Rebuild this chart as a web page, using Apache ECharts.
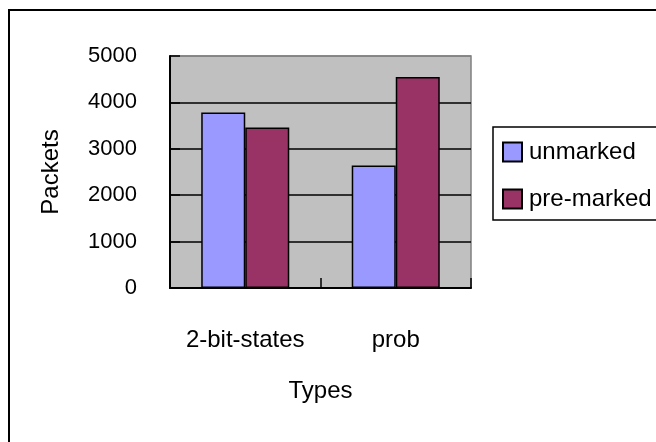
<!DOCTYPE html>
<html>
<head>
<meta charset="utf-8">
<script src="https://cdn.jsdelivr.net/npm/echarts@6/dist/echarts.min.js"></script>
<style>
  html, body { margin: 0; padding: 0; background: #fff; overflow: hidden; }
  #chart { width: 656px; height: 442px; }
</style>
</head>
<body>
<div id="chart"></div>
<script>
// Packet counts per marking type
var categories = ['2-bit-states', 'prob'];
var unmarked = [3780, 2640];
var preMarked = [3460, 4550];
var seriesNames = ['unmarked', 'pre-marked'];
var yTicks = [0, 1000, 2000, 3000, 4000, 5000];

var FONT = '"Liberation Sans", Arial, sans-serif';

var chart = echarts.init(document.getElementById('chart'), null, { renderer: 'canvas' });

chart.setOption({
  animation: false,
  backgroundColor: '#ffffff',
  textStyle: { fontFamily: FONT, color: '#000' },
  graphic: [{
    // outer chart frame; its right and bottom edges run past the canvas
    type: 'rect',
    shape: { x: 9, y: 10, width: 1000, height: 1000 },
    style: { fill: 'none', stroke: '#000', lineWidth: 2 },
    silent: true,
    z: 0
  }],
  grid: {
    left: 170, top: 56, width: 301, height: 232,
    show: true,
    backgroundColor: '#c0c0c0',
    borderColor: '#808080',
    borderWidth: 1.5
  },
  legend: {
    data: seriesNames,
    orient: 'vertical',
    left: 493, top: 127,
    padding: [13, 60, 9, 9],
    itemGap: 23,
    itemWidth: 19, itemHeight: 19,
    icon: 'rect',
    backgroundColor: '#fff',
    borderColor: '#000',
    borderWidth: 1.5,
    textStyle: { fontFamily: FONT, fontSize: 24, color: '#000', padding: [0, 0, 0, 2] }
  },
  xAxis: {
    type: 'category',
    data: categories,
    name: 'Types',
    nameLocation: 'middle',
    nameGap: 91,
    nameTextStyle: { fontFamily: FONT, fontSize: 24, color: '#000' },
    axisLine: { lineStyle: { color: '#000', width: 2 } },
    axisTick: { show: true, inside: true, length: 10, interval: 0, lineStyle: { color: '#000', width: 1.5 } },
    axisLabel: { fontFamily: FONT, fontSize: 24, color: '#000', margin: 40, interval: 0 }
  },
  yAxis: {
    type: 'value',
    min: yTicks[0],
    max: yTicks[yTicks.length - 1],
    interval: 1000,
    name: 'Packets',
    nameLocation: 'middle',
    nameGap: 107,
    nameRotate: 90,
    nameTextStyle: { fontFamily: FONT, fontSize: 24, color: '#000' },
    axisLine: { show: true, lineStyle: { color: '#000', width: 2 } },
    axisTick: { show: true, inside: true, length: 10, lineStyle: { color: '#000', width: 1.5 } },
    axisLabel: {
      fontFamily: FONT, fontSize: 22, color: '#000', margin: 33,
      formatter: function (v) { return String(v); }
    },
    splitLine: { show: true, lineStyle: { color: ['#000', '#000', '#000', '#000', '#000', '#808080'], width: 1.5 } }
  },
  series: [{
    name: seriesNames[0],
    type: 'bar',
    data: unmarked,
    barGap: '0%',
    barCategoryGap: '41.5%',
    itemStyle: { color: '#9999ff', borderColor: '#000', borderWidth: 1.5 }
  }, {
    name: seriesNames[1],
    type: 'bar',
    data: preMarked,
    barGap: '0%',
    barCategoryGap: '41.5%',
    itemStyle: { color: '#993366', borderColor: '#000', borderWidth: 1.5 }
  }]
});
</script>
</body>
</html>
